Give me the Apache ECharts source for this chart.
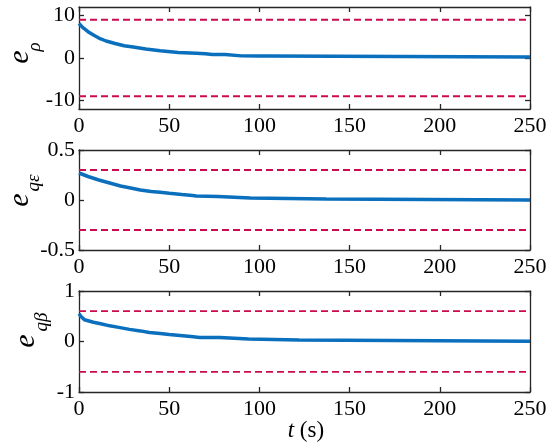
<!DOCTYPE html>
<html>
<head>
<meta charset="utf-8">
<script src="https://cdn.jsdelivr.net/npm/echarts@6/dist/echarts.min.js"></script>
<style>
  html, body { margin: 0; padding: 0; background: #fff; font-family: 'Liberation Serif', serif; }
  #chart { width: 558px; height: 442px; }
</style>
</head>
<body>
<div id="chart"></div>
<script>
// Tracking errors over time, with their prescribed bounds
const tRho = [0, 2, 5, 8, 11, 15, 20, 25, 30, 37, 45, 55, 65, 70, 74, 81, 81, 90, 100, 105, 105, 250];
const eRho = [8.1, 7.2, 6.2, 5.4, 4.7, 4.0, 3.4, 2.9, 2.6, 2.1, 1.7, 1.3, 1.1, 1.0, 0.85, 0.85, 0.55, 0.5, 0.45, 0.45, 0.25, 0.25];

const tEps = [0, 5, 11, 17, 23, 30, 34, 40, 45, 50, 57, 63, 65, 77, 77, 95, 95, 137, 137, 250];
const eEps = [0.27, 0.235, 0.2, 0.17, 0.14, 0.115, 0.1, 0.085, 0.077, 0.067, 0.055, 0.045, 0.04, 0.035, 0.02, 0.02, 0.01, 0.01, 0.0, 0.0];

const tBeta = [0, 1, 3, 8, 12, 17, 22, 28, 34, 39, 45, 50, 56, 62, 67, 78, 78, 94, 94, 122, 122, 250];
const eBeta = [0.55, 0.5, 0.43, 0.38, 0.35, 0.31, 0.28, 0.24, 0.21, 0.18, 0.16, 0.14, 0.12, 0.1, 0.08, 0.08, 0.05, 0.05, 0.03, 0.03, 0.005, 0.005];

const bounds = [9, 0.3, 0.6];
const yMin = [-12, -0.5, -1];
const yMax = [12, 0.5, 1];
const yTicks = [[-10, 0, 10], [-0.5, 0, 0.5], [-1, 0, 1]];
const tEnd = 250;

const series = [[tRho, eRho], [tEps, eEps], [tBeta, eBeta]];

const SERIF = 'Liberation Serif';
const AXIS_COLOR = '#262626';
const BLUE = '#0a6fbd';
const RED = '#cc0a4f';

const grids = [
  { left: 79, right: 28, top: 7, height: 102 },
  { left: 79, right: 28, top: 150, height: 100 },
  { left: 79, right: 28, top: 291, height: 101 }
];

const tickFont = { color: '#000', fontFamily: SERIF, fontStyle: 'normal', fontWeight: 'normal', fontSize: 22 };

const xAxes = [], yAxes = [], allSeries = [];
grids.forEach((g, i) => {
  const lineStyle = { color: AXIS_COLOR, width: 1.3 };
  xAxes.push({
    type: 'value', gridIndex: i, min: 0, max: tEnd, interval: 50, position: 'bottom',
    axisLine: { show: true, onZero: false, lineStyle },
    axisTick: { show: true, inside: true, length: 5, lineStyle },
    axisLabel: Object.assign({ show: true, margin: 6 }, tickFont),
    splitLine: { show: false }
  });
  xAxes.push({
    type: 'value', gridIndex: i, min: 0, max: tEnd, interval: 50, position: 'top',
    axisLine: { show: true, onZero: false, lineStyle },
    axisTick: { show: true, inside: true, length: 5, lineStyle },
    axisLabel: { show: false }, splitLine: { show: false }
  });
  const tickCfg = { customValues: yTicks[i] };
  yAxes.push({
    type: 'value', gridIndex: i, min: yMin[i], max: yMax[i], position: 'left',
    axisLine: { show: true, onZero: false, lineStyle },
    axisTick: Object.assign({ show: true, inside: true, length: 5, lineStyle }, tickCfg),
    axisLabel: Object.assign({ show: true, margin: 4 }, tickFont, tickCfg),
    splitLine: { show: false }
  });
  yAxes.push({
    type: 'value', gridIndex: i, min: yMin[i], max: yMax[i], position: 'right',
    axisLine: { show: true, onZero: false, lineStyle },
    axisTick: Object.assign({ show: true, inside: true, length: 5, lineStyle }, tickCfg),
    axisLabel: { show: false }, splitLine: { show: false }
  });

  const [ts, es] = series[i];
  allSeries.push({
    type: 'line', xAxisIndex: 2 * i, yAxisIndex: 2 * i, symbol: 'none', silent: true,
    data: ts.map((t, k) => [t, es[k]]),
    lineStyle: { color: BLUE, width: 3.5 }, z: 3
  });
  [bounds[i], -bounds[i]].forEach(b => {
    allSeries.push({
      type: 'line', xAxisIndex: 2 * i, yAxisIndex: 2 * i, symbol: 'none', silent: true,
      data: [[0, b], [tEnd, b]],
      lineStyle: { color: RED, width: 1.8, type: [7, 4] }, z: 2
    });
  });
});

// Rotated y-axis titles: italic e with a subscript
function yTitle(x, y, sx, sy, sub) {
  return [
    { type: 'text', x: x, y: y, rotation: Math.PI / 2,
      style: { text: 'e', font: 'italic 30px ' + SERIF, fill: '#000', align: 'center', verticalAlign: 'middle' } },
    { type: 'text', x: sx, y: sy, rotation: Math.PI / 2,
      style: { text: sub, font: 'italic 19px ' + SERIF, fill: '#000', align: 'center', verticalAlign: 'middle' } }
  ];
}

const graphics = [].concat(
  yTitle(20, 57, 35, 47, 'ρ'),
  yTitle(20, 200, 34, 183, 'qε'),
  yTitle(26, 341, 42, 322, 'qβ'),
  [
    { type: 'text', x: 291, y: 431,
      style: { text: 't', font: 'italic 23px ' + SERIF, fill: '#000', align: 'center', verticalAlign: 'middle' } },
    { type: 'text', x: 312, y: 431,
      style: { text: '(s)', font: '23px ' + SERIF, fill: '#000', align: 'center', verticalAlign: 'middle' } }
  ]
);

const chart = echarts.init(document.getElementById('chart'), null, { renderer: 'canvas' });
chart.setOption({
  animation: false,
  backgroundColor: '#fff',
  textStyle: { fontFamily: SERIF },
  grid: grids,
  xAxis: xAxes,
  yAxis: yAxes,
  series: allSeries,
  graphic: graphics
});
</script>
</body>
</html>
